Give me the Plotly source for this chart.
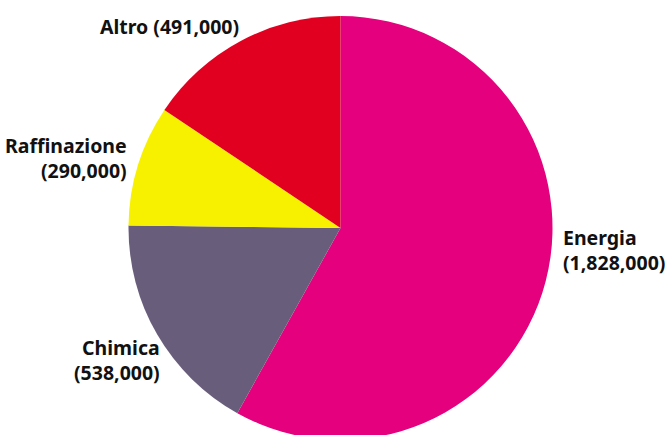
import plotly.graph_objects as go

# Occupational breakdown by sector
sectors = ["Energia", "Chimica", "Raffinazione", "Altro"]
values = [1828000, 538000, 290000, 491000]
colors = ["#E5007D", "#695D7C", "#F7F100", "#E10020"]
label_breaks = ["<br>", "<br>", "<br>", " "]

W, H = 671, 445
M = dict(l=10, r=0, t=16, b=5)


def to_paper(px, py):
    """Convert canvas pixel position to paper coordinates."""
    pw = W - M["l"] - M["r"]
    ph = H - M["t"] - M["b"]
    return (px - M["l"]) / pw, 1 - (py - M["t"]) / ph


fig = go.Figure(
    go.Pie(
        labels=sectors,
        values=values,
        textinfo="none",
        sort=False,
        direction="clockwise",
        rotation=0,
        marker=dict(colors=colors, line=dict(width=0)),
        showlegend=False,
        hoverinfo="label+value",
    )
)

# label placement around the pie: (x, y, horizontal anchor, alignment)
label_pos = {
    "Energia": (561, 250, "left"),
    "Chimica": (162, 360, "right"),
    "Raffinazione": (129, 158, "right"),
    "Altro": (241, 27, "right"),
}

for s, br, v in zip(sectors, label_breaks, values):
    px, py, anchor = label_pos[s]
    x, y = to_paper(px, py)
    fig.add_annotation(
        x=x, y=y, xref="paper", yref="paper",
        text=f"{s}{br}({v:,})",
        showarrow=False,
        xanchor=anchor, yanchor="middle", align=anchor,
        font=dict(family="Noto Sans", size=19.5, color="#111111", weight="bold"),
    )

fig.update_layout(
    width=W,
    height=H,
    margin=M,
    paper_bgcolor="white",
    plot_bgcolor="white",
)

fig.write_html("out.html", post_script="document.body.style.overflow='hidden';")
